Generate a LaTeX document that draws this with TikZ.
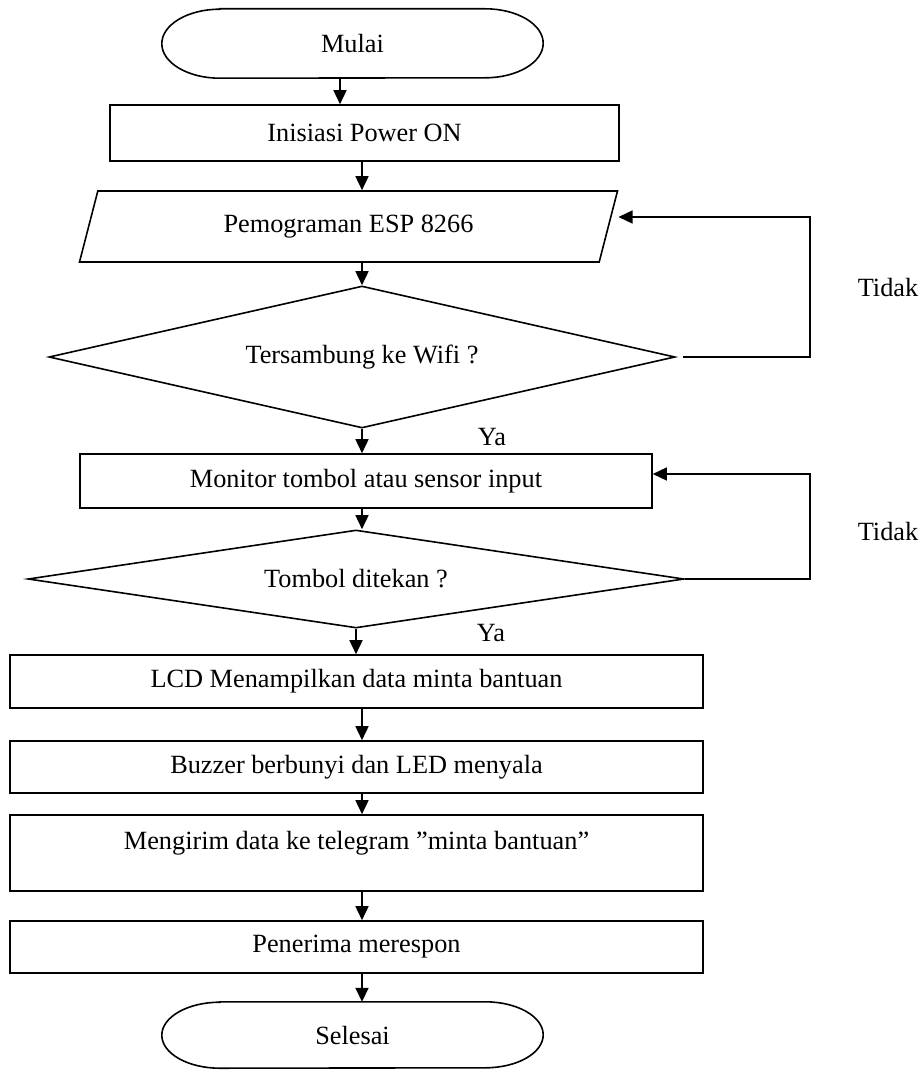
\documentclass[tikz,border=0pt]{standalone}
\usepackage{fontspec}
\setmainfont{Liberation Serif}
\usepackage{tikz}
\usetikzlibrary{arrows.meta,shapes.geometric,positioning}

\tikzset{
	garis/.style={line width=1.6pt},
	panah/.style={garis,-{Triangle[length=14pt,width=13pt]}},
	kotak/.style={draw,garis,rectangle,inner sep=0pt},
	keputusan/.style={draw,garis,diamond,inner sep=0pt},
	masukan/.style={draw,garis,trapezium,trapezium left angle=68.5,trapezium right angle=111.5,trapezium stretches=true,inner sep=0pt},
	ujung/.style={rectangle,inner sep=0pt,minimum width=381pt},
	teks/.style={inner sep=0pt}
}

\begin{document}
\begin{tikzpicture}[x=1pt,y=1pt,font=\fontsize{26.3}{30}\selectfont]
					
					\useasboundingbox (0,0) rectangle (921,-1070);
					
					\coordinate (kolom) at (362,0);
					\coordinate (kolomA) at (340,0);
					\coordinate (balik1) at (810,-217);
					\coordinate (balik2) at (810,-474);
					
					\node[ujung,minimum height=69pt] (mulai) at (352.5,-43.5) {Mulai};
					\node[kotak,minimum width=509pt,minimum height=56pt] (inisiasi) at (364.5,-133) {Inisiasi Power ON};
					\node[masukan,minimum width=539pt,minimum height=71pt] (program) at (348.5,-226.5) {Pemograman ESP 8266};
					\node[keputusan,aspect=4.4,minimum width=626pt,minimum height=142pt] (wifi) at (362,-357) {Tersambung ke Wifi ?};
					\node[kotak,minimum width=572pt,minimum height=54pt] (monitor) at (366,-481) {Monitor tombol atau sensor input};
					\node[keputusan,aspect=6.7,minimum width=656pt,minimum height=98pt] (tombol) at (356,-579) {Tombol ditekan ?};
					\node[kotak,minimum width=693pt,minimum height=53pt] (lcd) at (356.5,-681.5) {LCD Menampilkan data minta bantuan};
					\node[kotak,minimum width=693pt,minimum height=52pt] (buzzer) at (356.5,-767) {Buzzer berbunyi dan LED menyala};
					\node[kotak,minimum width=693pt,minimum height=76pt] (kirim) at (356.5,-853) {};
					\node[teks] (kirimteks) at (356.5,-843) {Mengirim data ke telegram ”minta bantuan”};
					\node[kotak,minimum width=693pt,minimum height=52pt] (terima) at (356.5,-947) {Penerima merespon};
					\node[ujung,minimum height=66pt] (selesai) at (352.5,-1035) {Selesai};
					
					\foreach \t/\r in {mulai/34.5,selesai/33}
						\draw[garis] ([xshift=58pt]\t.north west) -- ([xshift=-58pt]\t.north east)
							arc[start angle=90,end angle=-90,x radius=58pt,y radius=\r pt]
							-- ([xshift=58pt]\t.south west)
							arc[start angle=270,end angle=90,x radius=58pt,y radius=\r pt] -- cycle;
					
					\draw[panah] (mulai.south -| kolomA) -- (inisiasi.north -| kolomA);
					\draw[panah] (inisiasi.south -| kolom) -- (program.north -| kolom);
					\draw[panah] (program.south -| kolom) -- (wifi.north);
					\draw[panah] (wifi.south) -- (monitor.north -| kolom);
					\draw[panah] (monitor.south -| kolom) -- (tombol.north -| kolom);
					\draw[panah] (tombol.south) -- (tombol.south |- lcd.north);
					\foreach \a/\b in {lcd/buzzer,buzzer/kirim,kirim/terima,terima/selesai}
						\draw[panah] (\a.south -| kolom) -- (\b.north -| kolom);
					
					\draw[panah] ([xshift=7pt]wifi.east) -| (balik1) -- (balik1 -| program.top right corner);
					\draw[panah] (tombol.east) -| (balik2) -- (balik2 -| monitor.east);
					
					\node[teks] (tidak1) at (888,-288) {Tidak};
					\node[teks] (tidak2) at (888,-531) {Tidak};
					\node[teks] (ya1) at (492,-437) {Ya};
					\node[teks] (ya2) at (491,-633) {Ya};
					
\end{tikzpicture}
\end{document}
